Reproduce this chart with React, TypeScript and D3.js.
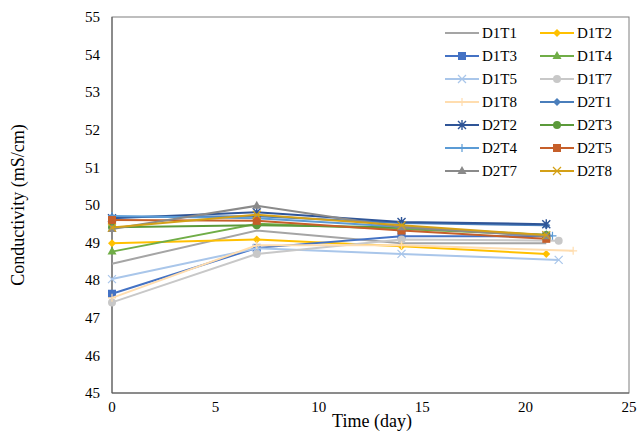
import * as d3 from "d3";

// days for each series (a few last points sit slightly right of 21)
const names = ["D1T1", "D1T2", "D1T3", "D1T4", "D1T5", "D1T7", "D1T8", "D2T1", "D2T2", "D2T3", "D2T4", "D2T5", "D2T7", "D2T8"];
const colors = ["#A5A5A5", "#FFC000", "#4472C4", "#70AD47", "#A9C6EA", "#C8C8C8", "#FFDDAF", "#4A7EBB", "#2F5597", "#5B9A3A", "#5B9BD5", "#C65F2A", "#8A8A8A", "#D4A017"];
const markers = ["none", "diamond", "square", "triangle", "x", "circle", "plus", "diamond", "star", "circle", "plus", "square", "triangle", "x"];
const days = [
  [0, 7, 14, 21], [0, 7, 14, 21], [0, 7, 14, 21], [0, 7, 14, 21], [0, 7, 14, 21.6], [0, 7, 14, 21.6], [0, 7, 14, 22.3],
  [0, 7, 14, 21], [0, 7, 14, 21], [0, 7, 14, 21], [0, 7, 14, 21.3], [0, 7, 14, 21], [0, 7, 14, 21], [0, 7, 14, 21],
];
const values = [
  [48.44, 49.32, 48.98, 48.98],
  [48.98, 49.08, 48.9, 48.7],
  [47.64, 48.86, 49.17, 49.17],
  [48.76, 49.5, 49.36, 49.2],
  [48.03, 48.85, 48.7, 48.54],
  [47.41, 48.7, 49.08, 49.05],
  [47.53, 48.93, 48.93, 48.78],
  [49.68, 49.7, 49.52, 49.46],
  [49.65, 49.81, 49.55, 49.49],
  [49.41, 49.46, 49.41, 49.2],
  [49.71, 49.65, 49.42, 49.18],
  [49.6, 49.58, 49.32, 49.1],
  [49.36, 49.98, 49.41, 49.17],
  [49.4, 49.74, 49.46, 49.2],
];
const xTicks = [0, 5, 10, 15, 20, 25];
const yTicks = [45, 46, 47, 48, 49, 50, 51, 52, 53, 54, 55];

const left = 112, right = 629, top = 17, bottom = 393;
const x = d3.scaleLinear().domain([0, 25]).range([left, right]);
const y = d3.scaleLinear().domain([45, 55]).range([bottom, top]);
const line = d3.line<[number, number]>().x((d) => x(d[0])).y((d) => y(d[1]));

function Marker({ kind, cx, cy, color }: { kind: string; cx: number; cy: number; color: string }) {
  const s = 4;
  switch (kind) {
    case "diamond":
      return <path d={`M${cx},${cy - s}L${cx + s},${cy}L${cx},${cy + s}L${cx - s},${cy}Z`} fill={color} />;
    case "square":
      return <rect x={cx - s} y={cy - s} width={2 * s} height={2 * s} fill={color} />;
    case "triangle":
      return <path d={`M${cx},${cy - s - 1}L${cx + s + 0.5},${cy + s - 1}L${cx - s - 0.5},${cy + s - 1}Z`} fill={color} />;
    case "circle":
      return <circle cx={cx} cy={cy} r={s} fill={color} />;
    case "x":
      return <path d={`M${cx - s},${cy - s}L${cx + s},${cy + s}M${cx - s},${cy + s}L${cx + s},${cy - s}`} stroke={color} strokeWidth={1.2} />;
    case "plus":
      return <path d={`M${cx - s},${cy}L${cx + s},${cy}M${cx},${cy - s}L${cx},${cy + s}`} stroke={color} strokeWidth={1.2} />;
    case "star":
      return <path d={`M${cx - s},${cy - s}L${cx + s},${cy + s}M${cx - s},${cy + s}L${cx + s},${cy - s}M${cx},${cy - s - 1}L${cx},${cy + s + 1}`} stroke={color} strokeWidth={1.4} />;
    default:
      return null;
  }
}

export default function App() {
  const font = "'Liberation Serif', 'Times New Roman', Times, 'DejaVu Serif', serif";
  return (
    <svg width={640} height={432} style={{ position: "absolute", left: 0, top: 0, background: "#fff" }}>
      <g style={{ fontFamily: font }}>
        <rect x={left} y={top} width={right - left} height={bottom - top} fill="none" stroke="#7f7f7f" strokeWidth={1} />
        <line x1={left} x2={left} y1={top} y2={bottom} stroke="#595959" />
        <line x1={left} x2={right} y1={bottom} y2={bottom} stroke="#595959" />
        {yTicks.map((t) => (
          <text key={t} x={left - 12} y={y(t)} dy="0.35em" textAnchor="end" fontSize={15} fontFamily={font} fill="#000">{t}</text>
        ))}
        {xTicks.map((t) => (
          <text key={t} x={x(t)} y={bottom + 19} textAnchor="middle" fontSize={15} fontFamily={font} fill="#000">{t}</text>
        ))}
        <text x={372} y={427} textAnchor="middle" fontSize={18} fontFamily={font}>Time (day)</text>
        <text transform={`translate(24,${(top + bottom) / 2}) rotate(-90)`} textAnchor="middle" fontSize={18} fontFamily={font}>Conductivity (mS/cm)</text>
        {names.map((n, i) => {
          const pts = days[i].map((d, j) => [d, values[i][j]] as [number, number]);
          return (
            <g key={n}>
              <path d={line(pts) ?? ""} fill="none" stroke={colors[i]} strokeWidth={2} />
              {pts.map((p, j) => (
                <Marker key={j} kind={markers[i]} cx={x(p[0])} cy={y(p[1])} color={colors[i]} />
              ))}
            </g>
          );
        })}
        {names.map((n, i) => {
          const col = i % 2, row = Math.floor(i / 2);
          const lx = col === 0 ? 445 : 540;
          const ly = 33 + row * 23;
          return (
            <g key={"l" + n}>
              <line x1={lx} x2={lx + 34} y1={ly} y2={ly} stroke={colors[i]} strokeWidth={2} />
              <Marker kind={markers[i]} cx={lx + 17} cy={ly} color={colors[i]} />
              <text x={lx + 37} y={ly} dy="0.35em" fontSize={15} fontFamily={font}>{n}</text>
            </g>
          );
        })}
      </g>
    </svg>
  );
}
